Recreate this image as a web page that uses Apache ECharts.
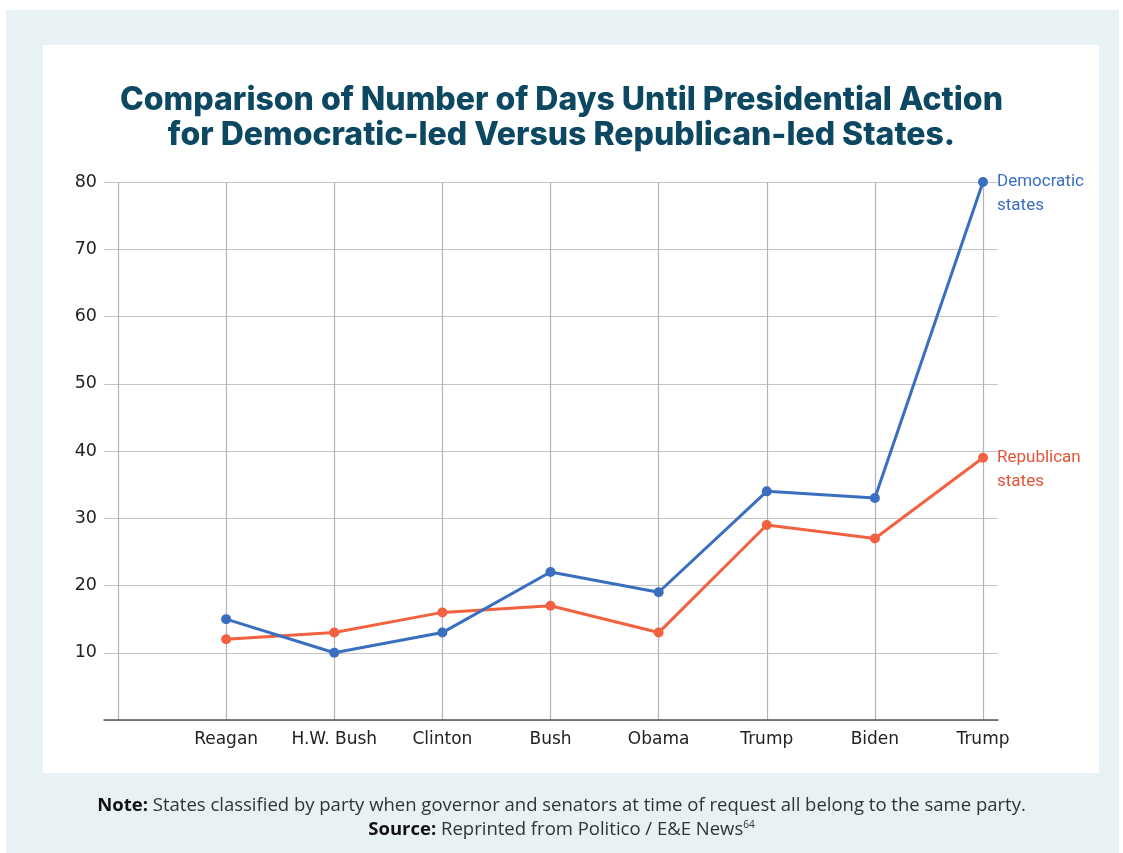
<!DOCTYPE html>
<html>
<head>
<meta charset="utf-8">
<script src="https://cdn.jsdelivr.net/npm/echarts@6/dist/echarts.min.js"></script>
<style>
  html, body { margin: 0; padding: 0; background: #ffffff; }
  #chart { width: 1123px; height: 853px; }
</style>
</head>
<body>
<div id="chart"></div>
<script>
// Presidential administrations (first slot is an empty lead-in column)
const categories = ['', 'Reagan', 'H.W. Bush', 'Clinton', 'Bush', 'Obama', 'Trump', 'Biden', 'Trump'];
// Days until presidential action
const democraticDays = [null, 15, 10, 13, 22, 19, 34, 33, 80];
const republicanDays = [null, 12, 13, 16, 17, 13, 29, 27, 39];
const yTicks = [10, 20, 30, 40, 50, 60, 70, 80];

const titleLines = [
  'Comparison of Number of Days Until Presidential Action',
  'for Democratic-led Versus Republican-led States.'
];

const BLUE = '#3a6fc0';
const RED = '#f26241';
const TEAL = '#0c4862';
const GRID_TOP = 182, GRID_BOTTOM = 853 - 720;

const chart = echarts.init(document.getElementById('chart'), null, { renderer: 'canvas' });

function endLabel(name, color) {
  return {
    show: true,
    position: 'right',
    distance: 9,
    color: color,
    fontFamily: 'Roboto',
    fontSize: 17,
    lineHeight: 24,
    align: 'left',
    verticalAlign: 'top',
    offset: [0, -12],
    formatter: (p) => p.dataIndex === categories.length - 1 ? name : ''
  };
}

const footRich = {
  b: { fontFamily: 'Open Sans', fontWeight: 'bold', fontSize: 18.5, fill: '#111111' },
  n: { fontFamily: 'Open Sans', fontSize: 18.5, fill: '#333333' },
  s: { fontFamily: 'Open Sans', fontSize: 10, fill: '#333333', padding: [0, 0, 10, 0] }
};

const option = {
  animation: false,
  backgroundColor: '#ffffff',
  graphic: [
    { type: 'rect', shape: { x: 6, y: 10, width: 1113, height: 843 }, style: { fill: '#e8f1f4' }, z: -10 },
    { type: 'rect', shape: { x: 43, y: 45, width: 1056, height: 728 }, style: { fill: '#ffffff' }, z: -9 },
    {
      type: 'text', left: 'center', top: 84,
      style: { text: titleLines[0], fill: TEAL, font: '800 32px Inter' }
    },
    {
      type: 'text', left: 'center', top: 119,
      style: { text: titleLines[1], fill: TEAL, font: '800 32px Inter' }
    },
    {
      type: 'text', left: 'center', top: 796,
      style: {
        rich: footRich,
        text: '{b|Note:}{n| States classified by party when governor and senators at time of request all belong to the same party.}'
      }
    },
    {
      type: 'text', left: 'center', top: 820,
      style: {
        rich: footRich,
        text: '{b|Source:}{n| Reprinted from Politico / E&E News}{s|64}'
      }
    }
  ],
  grid: [
    // Outer grid: horizontal gridlines and baseline span a little wider
    { left: 104, right: 1123 - 998, top: GRID_TOP, bottom: GRID_BOTTOM, containLabel: false },
    // Inner grid: category columns
    { left: 118, right: 1123 - 983, top: GRID_TOP, bottom: GRID_BOTTOM, containLabel: false }
  ],
  xAxis: [
    {
      gridIndex: 0, type: 'value', min: 0, max: 1,
      axisLine: { show: true, onZero: false, lineStyle: { color: '#555555', width: 1.5 } },
      axisTick: { show: false }, axisLabel: { show: false }, splitLine: { show: false }
    },
    {
      gridIndex: 1, type: 'category', data: categories, boundaryGap: false,
      axisLine: { show: false }, axisTick: { show: false },
      axisLabel: {
        show: true, color: '#222222', fontFamily: 'DejaVu Sans', fontSize: 17, margin: 11,
        interval: 0
      },
      splitLine: { show: true, lineStyle: { color: '#b3b3b3', width: 1.2 } }
    }
  ],
  yAxis: [
    {
      gridIndex: 0, type: 'value', min: 0, max: 80, interval: 10,
      axisLine: { show: false }, axisTick: { show: false },
      axisLabel: {
        color: '#222222', fontFamily: 'DejaVu Sans', fontSize: 17.5, margin: 7,
        formatter: (v) => yTicks.includes(v) ? String(v) : ''
      },
      splitLine: { show: true, lineStyle: { color: '#c4c4c4', width: 1.2 } }
    },
    {
      gridIndex: 1, type: 'value', min: 0, max: 80, interval: 10,
      axisLine: { show: false }, axisTick: { show: false }, axisLabel: { show: false },
      splitLine: { show: false }
    }
  ],
  series: [
    {
      name: 'Republican states', type: 'line', xAxisIndex: 1, yAxisIndex: 1,
      data: republicanDays, connectNulls: false,
      symbol: 'circle', symbolSize: 10,
      lineStyle: { color: RED, width: 3 }, itemStyle: { color: RED },
      label: endLabel('Republican\nstates', '#e2553a'), z: 3
    },
    {
      name: 'Democratic states', type: 'line', xAxisIndex: 1, yAxisIndex: 1,
      data: democraticDays, connectNulls: false,
      symbol: 'circle', symbolSize: 10,
      lineStyle: { color: BLUE, width: 3 }, itemStyle: { color: BLUE },
      label: endLabel('Democratic\nstates', '#3a6fc0'), z: 4
    }
  ]
};

chart.setOption(option);
</script>
</body>
</html>
